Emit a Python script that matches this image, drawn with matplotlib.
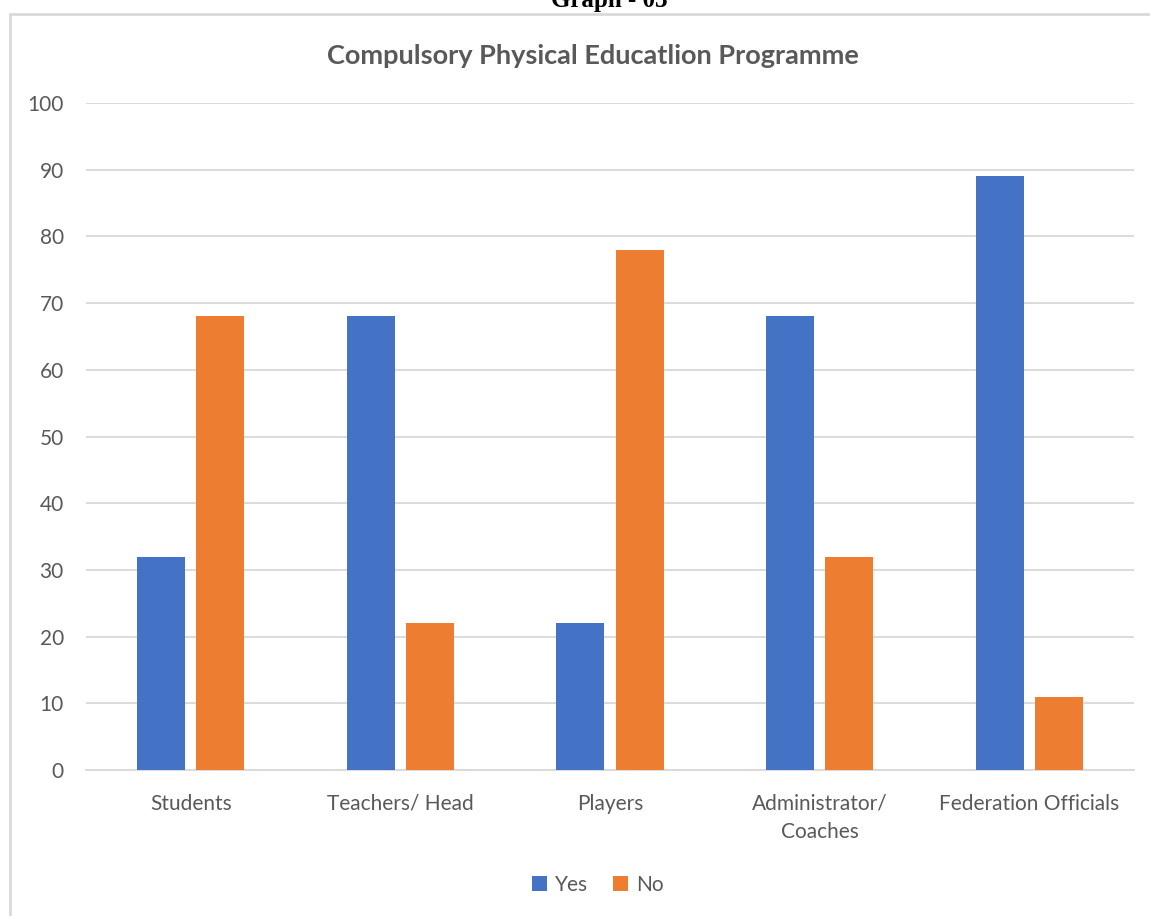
import numpy as np
import matplotlib
matplotlib.use("Agg")
import matplotlib.pyplot as plt
from matplotlib.patches import Rectangle

categories = ["Students", "Teachers/ Head", "Players", "Administrator/\nCoaches", "Federation Officials"]
yes_vals = [32, 68, 22, 68, 89]
no_vals  = [68, 22, 78, 32, 11]
yticks   = [0, 10, 20, 30, 40, 50, 60, 70, 80, 90, 100]

BLUE   = "#4472C4"
ORANGE = "#ED7D31"
GREY   = "#595959"
GRID   = "#D9D9D9"

plt.rcParams["font.family"] = ["Lato", "DejaVu Sans"]

W, H = 1150, 916
fig = plt.figure(figsize=(W / 100, H / 100), dpi=100)

# chart frame, running off the right and bottom edges
fig.patches.append(Rectangle((10 / W, -0.1), 1.2, 1 - 14 / H + 0.1,
                             transform=fig.transFigure, fill=False,
                             edgecolor=GRID, linewidth=2))

ax = fig.add_axes([86 / W, 1 - 770 / H, (1134 - 86) / W, (770 - 103) / H])

x = np.arange(len(categories))
bw = 0.229
off = 0.141
ax.bar(x - off, yes_vals, bw, color=BLUE, label="Yes", zorder=3)
ax.bar(x + off, no_vals, bw, color=ORANGE, label="No", zorder=3)

ax.set_xlim(-0.5, len(categories) - 0.5)
ax.set_ylim(0, 100)
ax.set_yticks(yticks)
ax.yaxis.grid(True, color=GRID, linewidth=1.3, zorder=0)
ax.set_axisbelow(True)
for s in ["top", "right", "left"]:
    ax.spines[s].set_visible(False)
ax.spines["bottom"].set_color(GRID)
ax.spines["bottom"].set_linewidth(1.3)
ax.tick_params(axis="both", length=0, colors=GREY, labelsize=15)
ax.tick_params(axis="y", pad=16)
ax.tick_params(axis="x", pad=17)
ax.set_xticks(x)
ax.set_xticklabels(categories, linespacing=1.55)
ax.set_facecolor("none")

fig.text(593 / W, 1 - 56 / H, "Compulsory Physical Educatlion Programme",
         ha="center", va="center", fontsize=19.5, fontweight="bold", color=GREY)
fig.text(609 / W, 1 - 0 / H, "Graph - 03", ha="center", va="center",
         fontsize=18, fontweight="bold", family="Liberation Serif", color="black")

fig.legend(loc="center", bbox_to_anchor=(598 / W, 1 - 885 / H), ncol=2,
           frameon=False, fontsize=15, labelcolor=GREY, handlelength=0.7,
           handleheight=0.7, handletextpad=0.4, columnspacing=1.2)

fig.savefig("out.png", dpi=100)
